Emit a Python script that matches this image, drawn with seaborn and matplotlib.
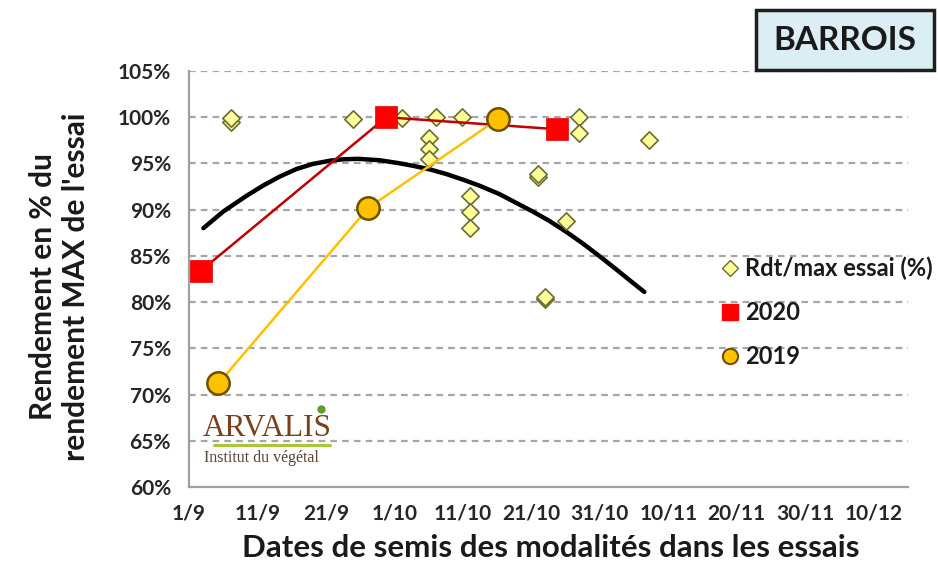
import matplotlib
matplotlib.use("Agg")
import matplotlib.pyplot as plt
from matplotlib.lines import Line2D
from matplotlib.patches import Rectangle
import seaborn as sns
import pandas as pd

# ---- data (days counted from 1 September) ----
rdt_days = [6.2, 6.2, 24.0, 31.1, 36.1, 39.9, 35.0, 35.0, 35.0, 41.0, 41.0, 41.0,
            57.0, 57.0, 67.2, 50.9, 50.9, 55.1, 52.0, 52.0]
rdt_pct = [99.5, 99.9, 99.8, 99.9, 100.0, 100.0, 97.7, 96.6, 95.5, 91.5, 89.8, 88.0,
           100.0, 98.3, 97.5, 93.5, 93.9, 88.8, 80.3, 80.6]

y2020_days = [1.75, 28.8, 53.8]
y2020_pct = [83.4, 100.0, 98.7]

y2019_days = [4.3, 26.2, 45.1]
y2019_pct = [71.2, 90.2, 99.8]

trend_days = [2.1, 5.0, 8.4, 10.8, 13.3, 15.7, 18.1, 20.6, 22.5, 24.7, 27.8, 30.5,
              32.7, 35.2, 37.6, 40.2, 42.4, 45.3, 50.2, 52.6, 55.1, 57.5, 59.9,
              62.3, 64.8, 66.5]
trend_pct = [88.0, 89.8, 91.5, 92.6, 93.6, 94.4, 94.95, 95.3, 95.45, 95.5, 95.35,
             95.05, 94.75, 94.35, 93.85, 93.2, 92.6, 91.7, 89.8, 88.8, 87.6, 86.35,
             85.0, 83.6, 82.1, 81.1]

x_ticks = [0, 10, 20, 30, 40, 50, 60, 70, 80, 90, 100]
x_labels = ["1/9", "11/9", "21/9", "1/10", "11/10", "21/10", "31/10",
            "10/11", "20/11", "30/11", "10/12"]
y_ticks = [60, 65, 70, 75, 80, 85, 90, 95, 100, 105]

df_rdt = pd.DataFrame({"day": rdt_days, "pct": rdt_pct})
df_2020 = pd.DataFrame({"day": y2020_days, "pct": y2020_pct})
df_2019 = pd.DataFrame({"day": y2019_days, "pct": y2019_pct})
df_trend = pd.DataFrame({"day": trend_days, "pct": trend_pct})

sns.set_style("white")
plt.rcParams["font.family"] = ["Lato", "DejaVu Sans"]

fig = plt.figure(figsize=(9.38, 5.74), dpi=100)
ax = fig.add_axes([0.2015, 0.1515, 0.7665, 0.7248])

ax.set_xlim(0, 105)
ax.set_ylim(60, 105)

# grid
for yv in y_ticks[1:]:
    ax.axhline(yv, color="#a6a6a6", lw=1.6, ls=(0, (3, 2.3)), zorder=0)

sns.lineplot(data=df_trend, x="day", y="pct", ax=ax, color="black", lw=3.2,
             sort=False, zorder=2, legend=False)
line = ax.get_lines()[-1]
line.set_solid_joinstyle("round")
line.set_solid_capstyle("round")
sns.scatterplot(data=df_rdt, x="day", y="pct", ax=ax, marker="D", s=78,
                color="#ffff99", edgecolor="#6b6b33", linewidth=1.2, zorder=3,
                legend=False)
sns.lineplot(data=df_2020, x="day", y="pct", ax=ax, color="#c00000", lw=1.8,
             sort=False, zorder=4, legend=False)
sns.scatterplot(data=df_2020, x="day", y="pct", ax=ax, marker="s", s=240,
                color="#ff0000", edgecolor="#e00000", linewidth=0.5, zorder=5,
                legend=False)
sns.lineplot(data=df_2019, x="day", y="pct", ax=ax, color="#ffc000", lw=1.8,
             sort=False, zorder=6, legend=False)
sns.scatterplot(data=df_2019, x="day", y="pct", ax=ax, marker="o", s=260,
                color="#ffc000", edgecolor="#6b5200", linewidth=1.8, zorder=7,
                legend=False)

ax.set_xticks(x_ticks)
ax.set_xticklabels(x_labels)
ax.set_yticks(y_ticks)
ax.set_yticklabels([f"{v}%" for v in y_ticks])
ax.set_xlabel("")
ax.set_ylabel("")

for lab in ax.get_xticklabels() + ax.get_yticklabels():
    lab.set_fontweight("bold")
    lab.set_fontsize(15)
    lab.set_color("#262626")

ax.tick_params(axis="x", direction="out", length=7, width=1.3, color="#a0a0a0", pad=5)
ax.tick_params(axis="y", direction="inout", length=10, width=1.3, color="#a0a0a0", pad=8)

for side in ["top", "right"]:
    ax.spines[side].set_visible(False)
for side in ["left", "bottom"]:
    ax.spines[side].set_color("#a0a0a0")
    ax.spines[side].set_linewidth(1.6)

# legend
handles = [
    Line2D([], [], ls="none", marker="D", markersize=8, markerfacecolor="#ffff99",
           markeredgecolor="#6b6b33", markeredgewidth=1.0),
    Line2D([], [], ls="none", marker="s", markersize=12, markerfacecolor="#ff0000",
           markeredgecolor="#ff0000"),
    Line2D([], [], ls="none", marker="o", markersize=11, markerfacecolor="#ffc000",
           markeredgecolor="#6b5200", markeredgewidth=1.5),
]
labels = ["Rdt/max essai (%)", "2020", "2019"]
leg = ax.legend(handles, labels, loc="upper left", bbox_to_anchor=(0.73, 0.577),
                frameon=False, handlelength=0.6, handletextpad=0.34,
                labelspacing=0.9, borderaxespad=0, prop={"size": 17, "weight": "bold"})
for t in leg.get_texts():
    t.set_color("#1a1a1a")

# axis titles
fig.text(0.063, 0.50, "Rendement en % du\nrendement MAX de l'essai", rotation=90,
         ha="center", va="center", fontsize=21.5, fontweight="bold",
         linespacing=1.22, color="#1a1a1a")
fig.text(0.587, 0.045, "Dates de semis des modalités dans les essais",
         ha="center", va="center", fontsize=22.5, fontweight="bold", color="#1a1a1a")

# title box
fig.patches.append(Rectangle((0.806, 0.878), 0.190, 0.104, transform=fig.transFigure,
                             facecolor="#dbeef3", edgecolor="#1f1f1f", lw=2.5,
                             zorder=5))
fig.text(0.901, 0.930, "BARROIS", ha="center", va="center", fontsize=24,
         fontweight="bold", color="#1a1a1a", zorder=6)

# logo (text)
fig.text(0.216, 0.253, "ARVALIS", ha="left", va="center", fontsize=22.5,
         family=["Liberation Serif", "DejaVu Serif"], color="#7b3f1d")
fig.lines.append(Line2D([0.228, 0.352], [0.225, 0.225], transform=fig.transFigure,
                        color="#a8c83a", lw=2.2))
fig.text(0.218, 0.202, "Institut du végétal", ha="left", va="center", fontsize=11.5,
         family=["Liberation Serif", "DejaVu Serif"], color="#5a4535")
fig.lines.append(Line2D([0.342], [0.288], transform=fig.transFigure, marker="o",
                        markersize=5, color="#5aa02c", ls="none"))

fig.savefig("out.png", dpi=100)
